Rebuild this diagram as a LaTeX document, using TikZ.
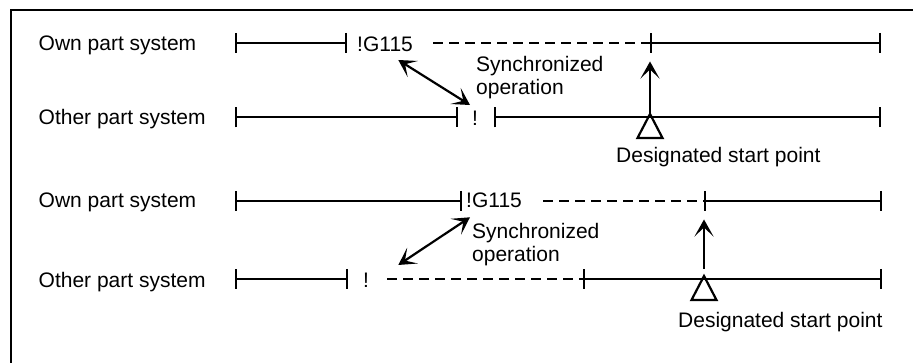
\documentclass[tikz,border=0pt]{standalone}
\usepackage{fontspec}
\setmainfont{Liberation Sans}
\usetikzlibrary{arrows.meta}
\tikzset{
  systxt/.style={font=\fontsize{21}{23}\selectfont,inner sep=0pt},
  tbar/.style={line width=2pt,{Bar[width=20pt]}-{Bar[width=20pt]}},
  tdash/.style={line width=2.6pt,dash pattern=on 10pt off 6pt},
  synarr/.style={line width=2.2pt,
    {Stealth[length=17pt,width=19pt,inset=9pt]}-{Stealth[length=17pt,width=19pt,inset=9pt]}},
  uparr/.style={line width=2.2pt,-{Stealth[length=17pt,width=19pt,inset=9pt]}},
  dstri/.style={line width=2.2pt,line join=miter}
}
\newcommand{\sysname}[3]{\node[systxt,anchor=base west] (#1) at (38.5,#2) {#3};}
\newcommand{\dsmark}[1]{\draw[dstri] (#1) -- ++(-12.5,-24) -- ++(25,0) -- cycle;}

\begin{document}
\begin{tikzpicture}[x=1pt,y=1pt]
  \useasboundingbox (0,0) rectangle (913,363);
  \draw[line width=2pt] (913,352.5) -- (10.5,352.5) -- (10.5,0);
  \foreach \n/\x/\y in {o1a/235/320,o1b/347/320,o1e/433/320,o1c/650/320,o1d/880.5/320,
      t1a/235/245.5,t1b/458/245.5,t1c/494/245.5,t1d/880.5/245.5,ds1/650/249,
      o2a/235/162,o2b/462/162,o2e/543/162,o2c/704/162,o2d/882/162,
      t2a/235/84,t2b/348/84,t2e/387/84,t2c/583/84,t2d/882/84,ds2/704/87,
      s1a/398.3/303,s1b/470/258,s2a/470/145.7,s2b/398.3/98}
    {\coordinate (\n) at (\x,\y);}
  \sysname{own1}{312}{Own part system}
  \sysname{oth1}{238}{Other part system}
  \sysname{own2}{155.5}{Own part system}
  \sysname{oth2}{75.5}{Other part system}
  \node[systxt,anchor=base west] (g1) at (357,311.5) {!G115};
  \node[systxt,anchor=base] (x1) at (475,237) {!};
  \node[systxt,anchor=base west] (g2) at (466,155) {!G115};
  \node[systxt,anchor=base] (x2) at (366,75) {!};
  \node[systxt,anchor=north west,align=left] (sy1) at (476,306.5) {Synchronized\\operation};
  \node[systxt,anchor=north west,align=left] (sy2) at (472,139.7) {Synchronized\\operation};
  \node[systxt,anchor=north west] (dp1) at (616,216) {Designated start point};
  \node[systxt,anchor=north west] (dp2) at (678,51.3) {Designated start point};
  \draw[tbar] (o1a) -- (o1b);
  \draw[tdash] (o1e) -- (o1c);
  \draw[tbar] (o1c) -- (o1d);
  \draw[tbar] (t1a) -- (t1b);
  \draw[tbar] (t1c) -- (t1d);
  \draw[tbar] (o2a) -- (o2b);
  \draw[tdash] (o2e) -- (o2c);
  \draw[tbar] (o2c) -- (o2d);
  \draw[tbar] (t2a) -- (t2b);
  \draw[tdash] (t2e) -- (t2c);
  \draw[tbar] (t2c) -- (t2d);
  \dsmark{ds1}
  \dsmark{ds2}
  \draw[uparr,shorten >=18.5pt] (ds1) -- (o1c);
  \draw[uparr,shorten <=7pt,shorten >=18.5pt] (ds2) -- (o2c);
  \draw[synarr] (s1a) -- (s1b);
  \draw[synarr] (s2a) -- (s2b);
\end{tikzpicture}
\end{document}
